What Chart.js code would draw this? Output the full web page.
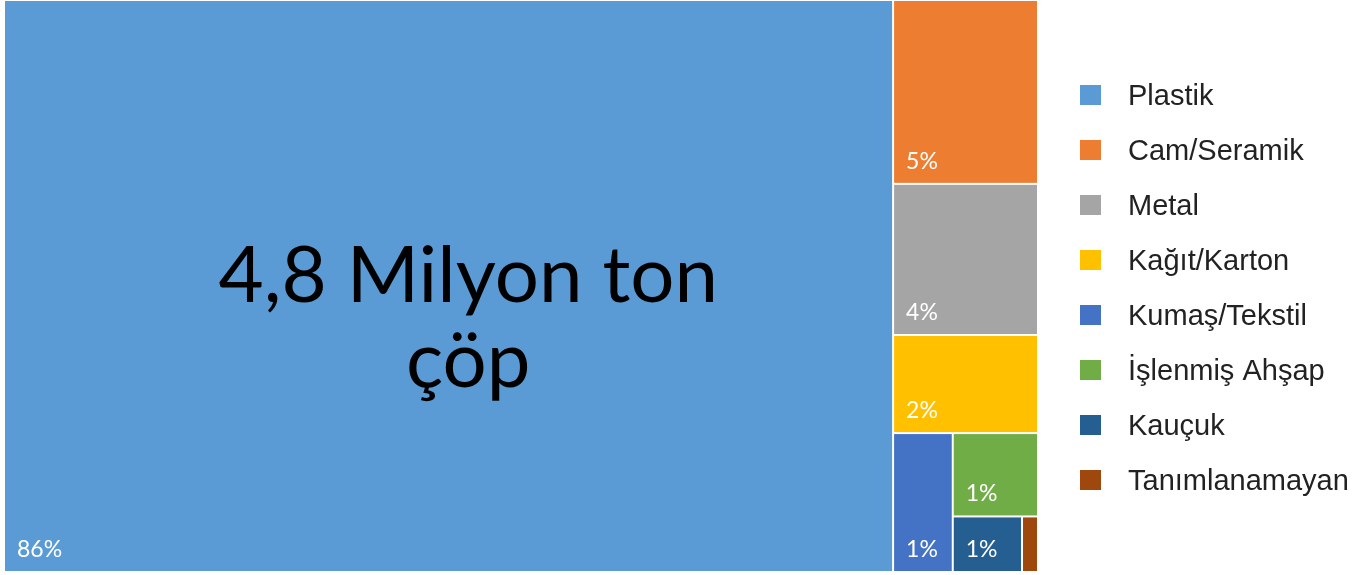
<!DOCTYPE html>
<html>
<head>
<meta charset="utf-8">
<script src="https://cdn.jsdelivr.net/npm/chart.js@4/dist/chart.umd.min.js"></script>
<style>
  html, body { margin: 0; padding: 0; background: #fff; }
</style>
</head>
<body>
<canvas id="chart" width="1360" height="575"></canvas>
<script>
// data
const categories = ['Plastik', 'Cam/Seramik', 'Metal', 'Kağıt/Karton', 'Kumaş/Tekstil', 'İşlenmiş Ahşap', 'Kauçuk', 'Tanımlanamayan'];
const shares = [85.9, 4.5, 3.7, 2.4, 1.4, 1.2, 0.65, 0.15];
const colors = ['#5B9BD5', '#ED7D31', '#A5A5A5', '#FFC000', '#4472C4', '#70AD47', '#255E91', '#9E480E'];
const centerText = ['4,8 Milyon ton', 'çöp'];

// each value cuts a strip off the remaining rectangle, across its longer side
function cutStrips(values, xScale, yScale) {
    let x0 = xScale.min, x1 = xScale.max, y0 = yScale.min, y1 = yScale.max;
    let rest = values.reduce((a, b) => a + b, 0);
    const cells = [];
    values.forEach(v => {
        const f = v / rest;
        const wPx = Math.abs(xScale.getPixelForValue(x1) - xScale.getPixelForValue(x0));
        const hPx = Math.abs(yScale.getPixelForValue(y1) - yScale.getPixelForValue(y0));
        if (wPx >= hPx) {
            const xm = x0 + f * (x1 - x0);
            cells.push({x0: x0, x1: xm, y0: y0, y1: y1});
            x0 = xm;
        } else {
            const ym = y0 + f * (y1 - y0);
            cells.push({x0: x0, x1: x1, y0: y0, y1: ym});
            y0 = ym;
        }
        rest -= v;
    });
    return cells;
}

const treemapPlugin = {
    id: 'treemap',
    afterDraw(chart) {
        const ctx = chart.ctx;
        const xs = chart.scales.x;
        const ys = chart.scales.y;
        const area = chart.chartArea;
        const cells = cutStrips(shares, xs, ys);

        ctx.save();
        cells.forEach((c, i) => {
            const left = xs.getPixelForValue(c.x0);
            const right = xs.getPixelForValue(c.x1);
            const top = ys.getPixelForValue(c.y0);
            const bottom = ys.getPixelForValue(c.y1);
            ctx.fillStyle = colors[i];
            ctx.fillRect(left + 1, top + 1, right - left - 2, bottom - top - 2);

            // percent label, bottom left
            const txt = Math.round(shares[i]) + '%';
            ctx.font = '23px Lato';
            const tw = ctx.measureText(txt).width;
            if (right - left > tw + 20 && shares[i] >= 0.5) {
                ctx.fillStyle = '#fff';
                ctx.textAlign = 'left';
                ctx.textBaseline = 'alphabetic';
                ctx.fillText(txt, left + 13, bottom - 15);
            }
        });

        // big caption
        ctx.fillStyle = '#000';
        ctx.font = '78px Lato';
        ctx.textAlign = 'center';
        ctx.textBaseline = 'alphabetic';
        const cx = area.left + 0.449 * (area.right - area.left);
        const h = area.bottom - area.top;
        ctx.fillText(centerText[0], cx, area.top + 0.528 * h);
        ctx.fillText(centerText[1], cx, area.top + 0.677 * h);

        // legend
        const step = 55;
        const midY = chart.height / 2;
        ctx.font = '29px "Liberation Sans", Arial';
        ctx.textAlign = 'left';
        categories.forEach((name, i) => {
            const cy = midY + (i - (categories.length - 1) / 2) * step;
            ctx.fillStyle = colors[i];
            ctx.fillRect(1080, cy - 10, 21, 20);
            ctx.fillStyle = '#222';
            ctx.fillText(name, 1128, cy + 10);
        });
        ctx.restore();
    }
};

const ctx = document.querySelector('#chart').getContext('2d');

const config = {
    type: 'scatter',
    data: {
        datasets: [{ data: [] }]
    },
    options: {
        responsive: false,
        animation: false,
        layout: {
            padding: { left: 4, top: 0, right: 322, bottom: 3 }
        },
        scales: {
            x: { type: 'linear', min: 0, max: 100, display: false },
            y: { type: 'linear', min: 0, max: 100, reverse: true, display: false }
        },
        plugins: {
            legend: { display: false },
            tooltip: { enabled: false }
        }
    },
    plugins: [treemapPlugin]
};

const chart = new Chart(ctx, config);
</script>
</body>
</html>
